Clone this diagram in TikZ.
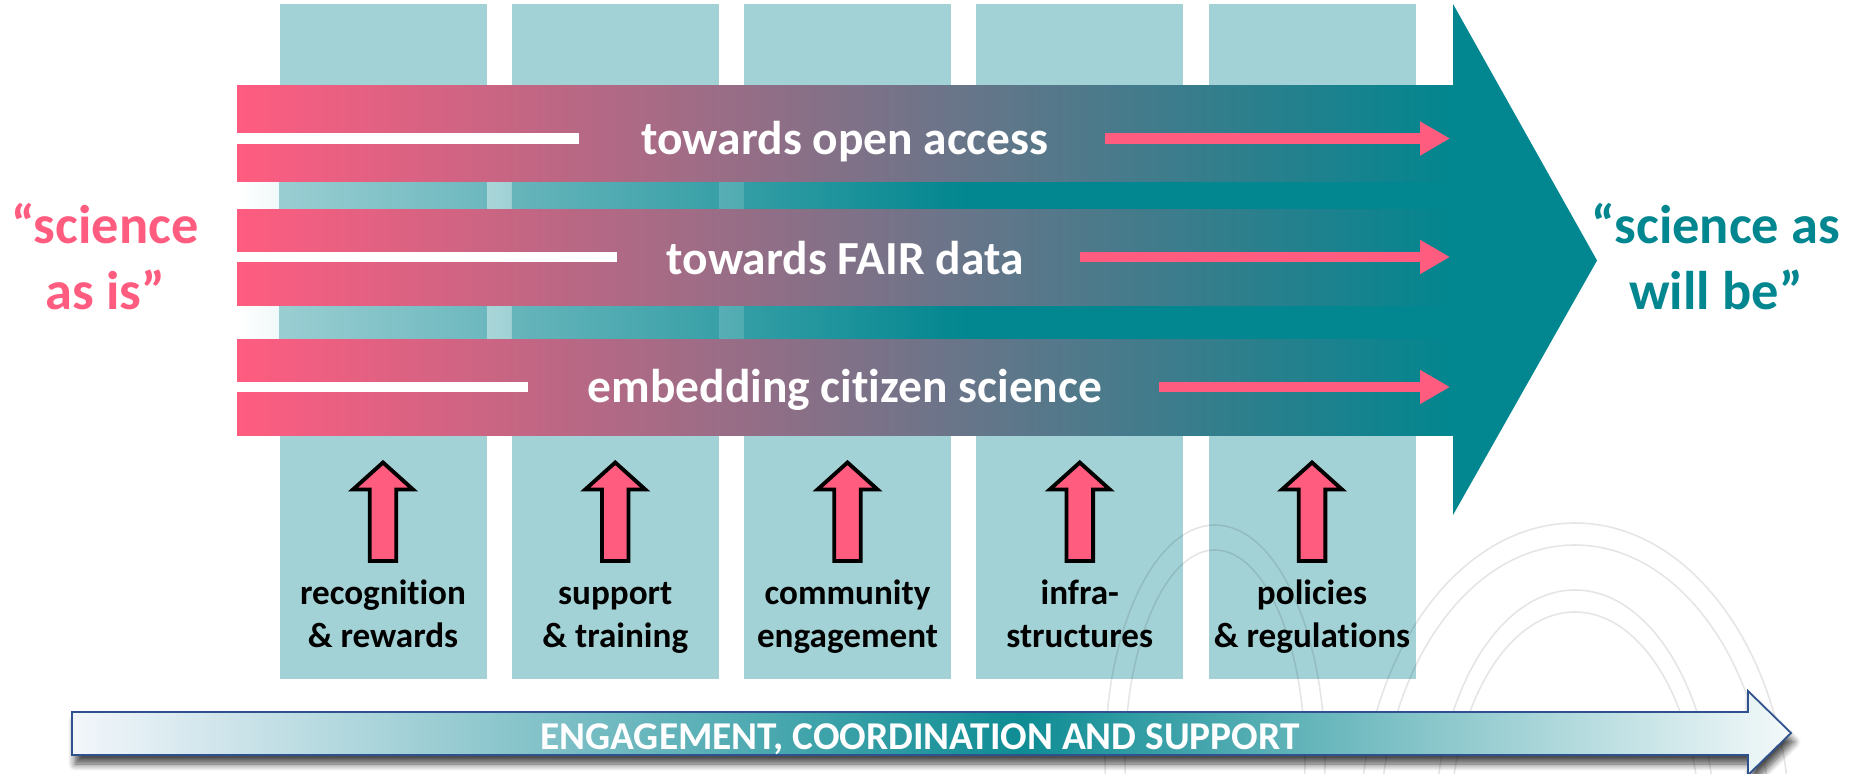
\documentclass[tikz,border=0pt]{standalone}
\usepackage{fontspec}
\setmainfont{Carlito}[Ligatures=NoCommon]
\usetikzlibrary{arrows.meta,shadows.blur}

\definecolor{pinkred}{HTML}{FF5C80}
\definecolor{petrol}{HTML}{02868F}
\definecolor{pillar}{HTML}{A3D2D6}
\definecolor{navyline}{HTML}{2F528F}
\definecolor{paleblue}{HTML}{F3F6FB}
\definecolor{basedark}{HTML}{0E8C94}
\definecolor{basepale}{HTML}{F4F9FA}

% bottom arrow: pale left, darkest a bit right of the middle, pale at the tip
\pgfdeclarehorizontalshading{basefade}{100bp}{color(0bp)=(paleblue); color(25bp)=(paleblue);
  color(52.6bp)=(basedark); color(75bp)=(basepale); color(100bp)=(basepale)}

\tikzset{
  pillarbox/.style={fill=pillar, draw=none, inner sep=0pt, minimum width=20.7mm, minimum height=67.5mm},
  flowbar/.style={left color=pinkred, right color=petrol},
  bartext/.style={text=white, font=\fontsize{13.5}{16}\selectfont\bfseries, anchor=base, inner sep=0pt},
  whiteline/.style={draw=white, line width=3.1pt},
  flowarrow/.style={draw=pinkred, line width=3.1pt, -{Triangle[length=8.5pt, width=9.1pt]}},
  uparrow/.style={fill=pinkred, draw=black, line width=1.1pt, line join=miter},
  pillarlabel/.style={align=center, inner sep=0pt, font=\fontsize{10}{12.2}\selectfont\bfseries},
  sidelabel/.style={align=center, inner sep=0pt, font=\fontsize{15.5}{18.9}\selectfont\bfseries},
  basearrow/.style={shading=basefade, draw=navyline, line width=0.5pt},
}

\begin{document}
\begin{tikzpicture}[x=0.1mm, y=-0.1mm]
\useasboundingbox (0,0) rectangle (1852,774);

% pillars
\foreach \n in {1,...,5}
  \node[pillarbox] (col\n) at ({383+232.25*(\n-1)},341.5) {};

% big arrow behind the bars
\fill[petrol] (237,86) -- (1453,86) -- (1453,4) -- (1597,260.5)
  -- (1453,515) -- (1453,436) -- (237,436) -- cycle;

% gaps between the bars: arrow fades out to the left
\foreach \ga/\gb in {182/210, 306/340}{
  \shade[left color=white, right color=petrol] (237,\ga) rectangle (966,\gb);
  \foreach \n in {1,2,3}{
    \begin{scope}
      \clip ({279.5+232.25*(\n-1)},\ga) rectangle ({486.5+232.25*(\n-1)},\gb);
      \shade[left color=pillar, right color=petrol] (237,\ga) rectangle (966,\gb);
    \end{scope}
  }
}

% bars
\foreach \k/\yt/\ly/\yb/\lend/\txt in {1/86/138.5/155/579/{towards open access},
    2/210/257/275/617/{towards FAIR data}, 3/340/387/403/528/{embedding citizen science}}{
  \shade[flowbar] (237,\yt) rectangle (1453,\yt+96);
  \node[bartext] (txt\k) at (845,\yb) {\txt};
  \coordinate (tip\k) at (1450,\ly);
  \path (txt\k.east) ++(56,0) coordinate (st\k);
  \draw[whiteline] (237,\ly) -- (\lend,\ly);
  \draw[flowarrow] (st\k |- tip\k) -- (tip\k);
}

% pillar arrows and labels
\foreach \n/\txt [evaluate=\n as \cx using {383+232.25*(\n-1)}] in
    {1/{\strut recognition\\\strut\& rewards}, 2/{\strut support\\\strut\& training},
     3/{\strut community\\\strut engagement}, 4/{\strut infra-\\\strut structures},
     5/{\strut policies\\\strut\& regulations}}{
  \draw[uparrow] (\cx,462.5) -- (\cx+30,489.5) -- (\cx+13.3,489.5) -- (\cx+13.3,561)
    -- (\cx-13.3,561) -- (\cx-13.3,489.5) -- (\cx-30,489.5) -- cycle;
  \node[pillarlabel] (lbl\n) at (\cx,617.5) {\txt};
}

% side texts
\node[sidelabel, text=pinkred] (asis) at (105,263.5) {\strut “science\\\strut as is”};
\node[sidelabel, text=petrol] (willbe) at (1716,263.5) {\strut “science as\\\strut will be”};

% faint watermark rings
\begin{scope}[draw=black, draw opacity=0.1, line width=0.45pt]
  \foreach \rx/\ry in {21.5/30.7, 19.5/28.5, 14/24, 12.5/21.8}
    \draw (1575,830) ellipse ({\rx mm} and {\ry mm});
  \foreach \rx/\ry in {11/23.5, 9/21}
    \draw (1215,760) ellipse ({\rx mm} and {\ry mm});
\end{scope}

% bottom arrow
\path[blur shadow={shadow xshift=0.3mm, shadow yshift=-0.9mm, shadow blur steps=8, shadow opacity=70}]
  (72,712) -- (1748,712) -- (1748,691) -- (1791,733) -- (1748,775) -- (1748,755) -- (72,755) -- cycle;
\shade[basearrow]
  (72,712) -- (1748,712) -- (1748,691) -- (1791,733) -- (1748,775) -- (1748,755) -- (72,755) -- cycle;
\node[text=white, font=\fontsize{11.2}{13}\selectfont\bfseries, anchor=base, inner sep=0pt] (basetxt)
  at (920,750) {ENGAGEMENT, COORDINATION AND SUPPORT};
\end{tikzpicture}
\end{document}
